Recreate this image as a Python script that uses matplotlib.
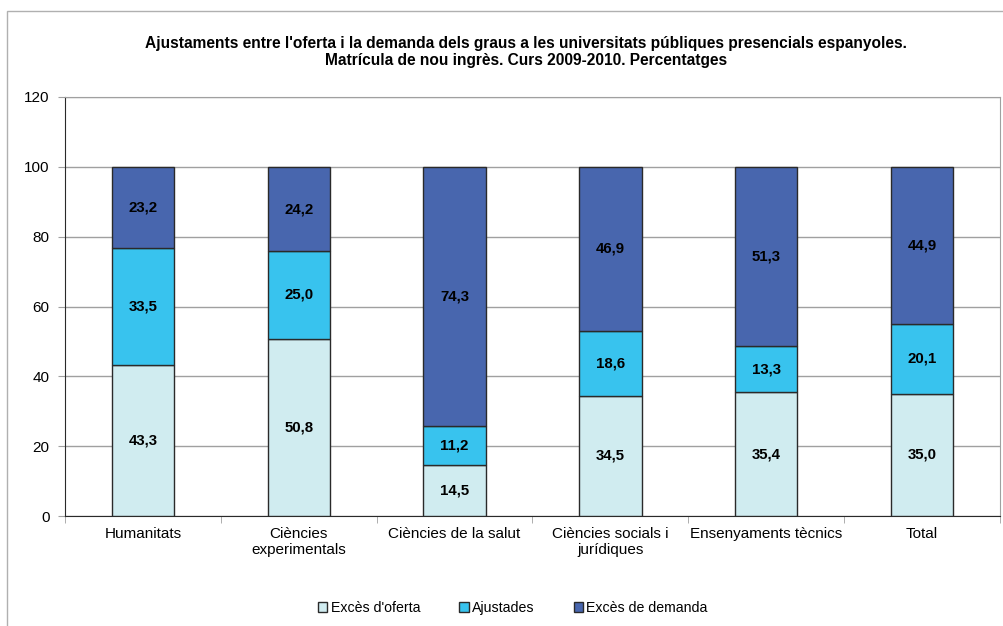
import numpy as np
import matplotlib
matplotlib.use("Agg")
from matplotlib import pyplot as plt
from matplotlib.patches import Rectangle

plt.rcParams['font.family'] = ['Liberation Sans', 'DejaVu Sans']

categories = ['Humanitats', 'Ciències\nexperimentals', 'Ciències de la salut',
              'Ciències socials i\njurídiques', 'Ensenyaments tècnics', 'Total']
exces_oferta = [43.3, 50.8, 14.5, 34.5, 35.4, 35.0]
ajustades = [33.5, 25.0, 11.2, 18.6, 13.3, 20.1]
exces_demanda = [23.2, 24.2, 74.3, 46.9, 51.3, 44.9]
series_names = ["Excès d'oferta", 'Ajustades', 'Excès de demanda']
colors = ['#D0ECF0', '#38C3EE', '#4866AE']
yticks = [0, 20, 40, 60, 80, 100, 120]

fig = plt.figure(figsize=(10.04, 6.26), dpi=100)
fig.patches.append(Rectangle((7 / 1004, -0.01), 1.0, 1 - 11 / 626 + 0.01,
                             transform=fig.transFigure, fill=False,
                             edgecolor='#B0B0B0', linewidth=1.0))
ax = fig.add_axes([65 / 1004, 110 / 626, 935 / 1004, 419 / 626])

x = np.arange(len(categories))
bottom = np.zeros(len(categories))
for vals, name, col in zip([exces_oferta, ajustades, exces_demanda], series_names, colors):
    bars = ax.bar(x, vals, 0.4, bottom=bottom, color=col, edgecolor='#2a2a2a',
                  linewidth=1.0, label=name, zorder=3)
    for b, v, b0 in zip(bars, vals, bottom):
        ax.text(b.get_x() + b.get_width() / 2, b0 + v / 2, f'{v:.1f}'.replace('.', ','),
                ha='center', va='center', fontsize=10.8, fontweight='bold', zorder=4)
    bottom = bottom + np.array(vals)

ax.set_xlim(-0.5, len(categories) - 0.5)
ax.set_ylim(0, 120)
ax.set_yticks(yticks)
ax.set_yticklabels([str(t) for t in yticks], fontsize=11)
ax.yaxis.grid(True, color='#A0A0A0', linewidth=1.0, zorder=0)
ax.set_xticks(x)
ax.set_xticklabels(categories, fontsize=11, va='top', linespacing=1.15)
ax.tick_params(axis='x', length=0, pad=8)
ax.tick_params(axis='y', length=5, color='#A0A0A0', pad=6)
ax.set_xticks(np.arange(-0.5, len(categories)), minor=True)
ax.tick_params(axis='x', which='minor', length=5, color='#A0A0A0')

for side in ['top', 'right']:
    ax.spines[side].set_color('#A0A0A0')
for side in ['left', 'bottom']:
    ax.spines[side].set_color('#2a2a2a')

fig.text(0.524, 0.917, "Ajustaments entre l'oferta i la demanda dels graus a les universitats "
         "públiques presencials espanyoles.\nMatrícula de nou ingrès. Curs 2009-2010. Percentatges",
         ha='center', va='center', fontsize=11.2, fontweight='bold', linespacing=1.15)

fig.legend(loc='center', bbox_to_anchor=(0.511, 0.029), ncol=3, frameon=False,
           fontsize=10.2, handlelength=0.65, handleheight=0.65, handletextpad=0.25,
           columnspacing=2.75)

fig.savefig('out.png', dpi=100)
